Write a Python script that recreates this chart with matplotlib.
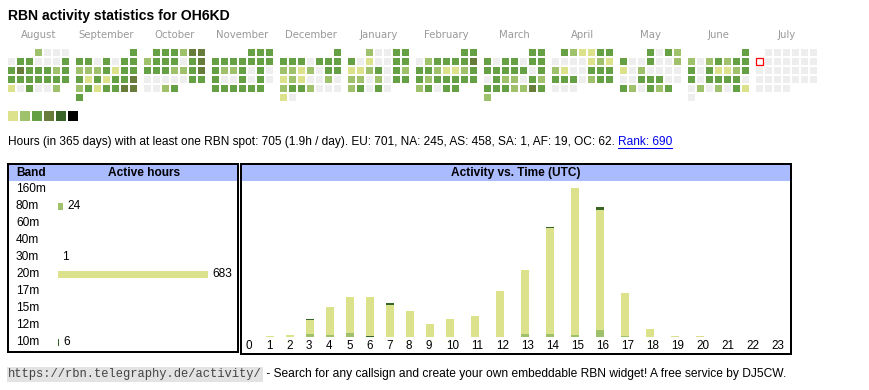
import matplotlib
matplotlib.use("Agg")
import matplotlib.pyplot as plt
from matplotlib.patches import Rectangle
import datetime as dt

# ---------------- data ----------------
TITLE = "RBN activity statistics for OH6KD"
MONTH_NAMES = ["August", "September", "October", "November", "December", "January",
               "February", "March", "April", "May", "June", "July"]
MONTH_YEARS = [2024, 2024, 2024, 2024, 2024, 2025, 2025, 2025, 2025, 2025, 2025, 2025]
MONTH_NUMS = [8, 9, 10, 11, 12, 1, 2, 3, 4, 5, 6, 7]
# daily activity level (0 = none, 1..6 = legend levels), one character per day of month
DAY_LEVELS = [
    "2000" "0330003" "3433323" "3333333" "103002",            # Aug
    "3" "3303033" "2223133" "3131334" "2313344" "3",          # Sep
    "333244" "2333034" "3332234" "0000033" "0023",            # Oct
    "333" "3333333" "3223030" "3003030" "333333",             # Nov
    "3" "3330333" "2212033" "1210020" "2332000" "10",         # Dec
    "20033" "3010033" "1123032" "2202033" "23030",            # Jan
    "33" "0233334" "3321123" "3233333" "23033",               # Feb
    "33" "3033033" "3333303" "0322032" "3332243" "2",         # Mar
    "321133" "0000121" "2100333" "3330233" "000",             # Apr
    "3032" "3003002" "1020000" "0033300" "320323",            # May
    "3" "2023233" "3031123" "3033330" "0202031" "0",          # Jun
    "0" * 31,                                                 # Jul
]
TODAY = dt.date(2025, 7, 7)

STATS_TEXT = ("Hours (in 365 days) with at least one RBN spot: 705 (1.9h / day). "
              "EU: 701, NA: 245, AS: 458, SA: 1, AF: 19, OC: 62.")
RANK_TEXT = "Rank: 690"

BANDS = ["160m", "80m", "60m", "40m", "30m", "20m", "17m", "15m", "12m", "10m"]
BAND_HOURS = [0, 24, 0, 0, 1, 683, 0, 0, 0, 6]

HOUR_LABELS = [str(h) for h in range(24)]
# active hours per UTC hour and band
H_80M = [0, 0, 0, 3, 2, 4, 0, 0, 0, 0, 0, 0, 0, 3, 3, 2, 6, 1, 0, 0, 0, 0, 0, 0]
H_30M = [0, 0, 0, 0, 0, 0, 1, 0, 0, 0, 0, 0, 0, 0, 0, 0, 0, 0, 0, 0, 0, 0, 0, 0]
H_20M = [0, 1, 2, 12, 25, 32, 35, 29, 23, 12, 16, 19, 41, 57, 94, 131, 107, 38, 7, 1, 1, 0, 0, 0]
H_10M = [0, 0, 0, 1, 0, 0, 0, 1, 0, 0, 0, 0, 0, 0, 1, 0, 3, 0, 0, 0, 0, 0, 0, 0]

URL_TEXT = "https://rbn.telegraphy.de/activity/"
FOOTER_TEXT = " - Search for any callsign and create your own embeddable RBN widget! A free service by DJ5CW."

# ---------------- style ----------------
LEVEL_COLORS = ["#eeeeee", "#dbe28b", "#9fc16b", "#65a044", "#677b3b", "#396427", "#000000"]
BAND_COLORS = {"160m": "#ff7f00", "80m": LEVEL_COLORS[2], "60m": "#8844aa", "40m": "#4477cc",
               "30m": LEVEL_COLORS[5], "20m": LEVEL_COLORS[1], "17m": "#cc4444", "15m": "#44aaaa",
               "12m": "#aaaa44", "10m": LEVEL_COLORS[5]}
HEADER_BLUE = "#aabbff"
SANS = ["Liberation Sans", "DejaVu Sans"]

W, H, DPI = 870, 390, 100
fig = plt.figure(figsize=(W / DPI, H / DPI), dpi=DPI)


def px_axes(x0, y0, x1, y1):
    return fig.add_axes([x0 / W, 1 - y1 / H, (x1 - x0) / W, (y1 - y0) / H])


bg = px_axes(0, 0, W, H)
bg.set_xlim(0, W)
bg.set_ylim(H, 0)
bg.axis("off")

# title
bg.text(8, 16, TITLE, fontsize=10.1, fontweight="bold", family=SANS, ha="left", va="center")

# ---------------- calendar ----------------
PITCH, CELL, MGAP = 9, 7, 5
MW = 7 * PITCH + MGAP
cal = px_axes(8, 49, 8 + 12 * MW - MGAP - (PITCH - CELL), 49 + 5 * PITCH + CELL)
cal.set_xlim(0, 12 * MW - MGAP - (PITCH - CELL))
cal.set_ylim(5 * PITCH + CELL, 0)
cal.axis("off")
for m, (name, yr, mn, lev) in enumerate(zip(MONTH_NAMES, MONTH_YEARS, MONTH_NUMS, DAY_LEVELS)):
    first_wd = dt.date(yr, mn, 1).weekday()
    for d, ch in enumerate(lev, start=1):
        date = dt.date(yr, mn, d)
        col = date.weekday()
        row = (d - 1 + first_wd) // 7
        x = m * MW + col * PITCH
        y = row * PITCH
        if date == TODAY:
            cal.add_patch(Rectangle((x, y), CELL, CELL, facecolor="white",
                                    edgecolor="#ff0000", linewidth=0.9))
        else:
            cal.add_patch(Rectangle((x, y), CELL, CELL, facecolor=LEVEL_COLORS[int(ch)],
                                    edgecolor="none"))
    cal.text(m * MW + (7 * PITCH - (PITCH - CELL)) / 2, -14, name, ha="center", va="center",
             fontsize=7.3, color="#999999", family="DejaVu Sans", clip_on=False)

# legend squares
for i, c in enumerate(LEVEL_COLORS[1:]):
    bg.add_patch(Rectangle((8 + 12 * i, 111), 10, 10, facecolor=c, edgecolor="none"))

# ---------------- stats line ----------------
fig.canvas.draw()
rend = fig.canvas.get_renderer()
STAT_FS = 8.6
t_stats = bg.text(8, 142, STATS_TEXT, fontsize=STAT_FS, family=SANS, ha="left", va="center")
bb = t_stats.get_window_extent(renderer=rend)
x_end = bg.transData.inverted().transform((bb.x1, bb.y0))[0]
space_px = STAT_FS / 0.72 * 0.278
t_rank = bg.text(x_end + space_px, 142, RANK_TEXT, fontsize=STAT_FS, family=SANS,
                 ha="left", va="center", color="#0000ee")
bb2 = t_rank.get_window_extent(renderer=rend)
(rx0, _), (rx1, _) = bg.transData.inverted().transform([(bb2.x0, bb2.y0), (bb2.x1, bb2.y0)])
bg.plot([rx0, rx1], [147.5, 147.5], color="#0000ee", linewidth=0.75)

# ---------------- band table ----------------
BX0, BY0, BX1, BY1 = 8.5, 164.3, 238.3, 351.7
BAR_X0 = 58.0
S = 150.0 / max(BAND_HOURS)        # px per hour
ROW0, ROWH = 189.3, 17.0
bax = px_axes(BX0, BY0, BX1, BY1)
bax.set_xlim((BX0 - BAR_X0) / S, (BX1 - BAR_X0) / S)
bax.set_ylim((BY1 - ROW0) / ROWH, (BY0 - ROW0) / ROWH)
bax.axhspan((BY0 + 1 - ROW0) / ROWH, (181 - ROW0) / ROWH, color=HEADER_BLUE, zorder=0, lw=0)
bax.barh(range(len(BANDS)), BAND_HOURS, height=7 / ROWH,
         color=[BAND_COLORS[b] for b in BANDS], left=0)
hy = (173.3 - ROW0) / ROWH
bax.text((16 - BAR_X0) / S, hy, "Band", fontsize=8.6, fontweight="bold", family=SANS,
         ha="left", va="center")
bax.text((144.5 - BAR_X0) / S, hy, "Active hours", fontsize=8.6, fontweight="bold", family=SANS,
         ha="center", va="center")
for i, (b, v) in enumerate(zip(BANDS, BAND_HOURS)):
    bax.text((16 - BAR_X0) / S, i, b, fontsize=8.6, family=SANS, ha="left", va="center")
    if v > 0:
        bax.text(v + 4 / S, i, str(v), fontsize=8.6, family=SANS, ha="left", va="center")
bax.set_xticks([])
bax.set_yticks([])
for sp in bax.spines.values():
    sp.set_linewidth(1.44)
    sp.set_color("black")

# ---------------- activity vs time ----------------
AX0, AY0, AX1, AY1 = 241, 164.3, 791, 353.7
BASE = 337.0
K = 1.12                       # px per hour
aax = px_axes(AX0, AY0, AX1, AY1)
aax.set_xlim(AX0, AX1)
aax.set_ylim(-(AY1 - BASE) / K, (BASE - AY0) / K)
aax.axhspan((BASE - 181) / K, (BASE - AY0 - 1) / K, color=HEADER_BLUE, zorder=0, lw=0)
# column positions follow label widths (narrow for 1-digit, wider for 2-digit labels)
xpos = []
cur = 246.0
for lbl in HOUR_LABELS:
    xpos.append(cur)
    cur += 20 if len(lbl) == 1 else 25
bottom = [0] * 24
for band, vals in [("80m", H_80M), ("30m", H_30M), ("20m", H_20M), ("10m", H_10M)]:
    aax.bar(xpos, vals, width=8, bottom=bottom, align="edge", color=BAND_COLORS[band], lw=0)
    bottom = [a + b for a, b in zip(bottom, vals)]
for x, lbl in zip(xpos, HOUR_LABELS):
    aax.text(x, (BASE - 346) / K, lbl, fontsize=8.4, family=SANS, ha="left", va="center")
aax.text((AX0 + AX1) / 2, (BASE - 173.3) / K, "Activity vs. Time (UTC)", fontsize=8.6,
         fontweight="bold", family=SANS, ha="center", va="center")
aax.set_xticks([])
aax.set_yticks([])
for sp in aax.spines.values():
    sp.set_linewidth(1.44)
    sp.set_color("black")

# ---------------- footer ----------------
t_url = bg.text(8, 374.5, URL_TEXT, fontsize=8.75, family=["Liberation Mono", "DejaVu Sans Mono"],
                ha="left", va="center", color="#444444",
                bbox=dict(boxstyle="square,pad=0.12", facecolor="#e3e3e3", edgecolor="none"))
fig.canvas.draw()
bb3 = t_url.get_window_extent(renderer=rend)
ux1 = bg.transData.inverted().transform((bb3.x1, bb3.y0))[0]
bg.text(ux1 + 1.5, 374.5, FOOTER_TEXT, fontsize=8.65, family=SANS, ha="left", va="center")

fig.savefig("out.png", dpi=DPI)
